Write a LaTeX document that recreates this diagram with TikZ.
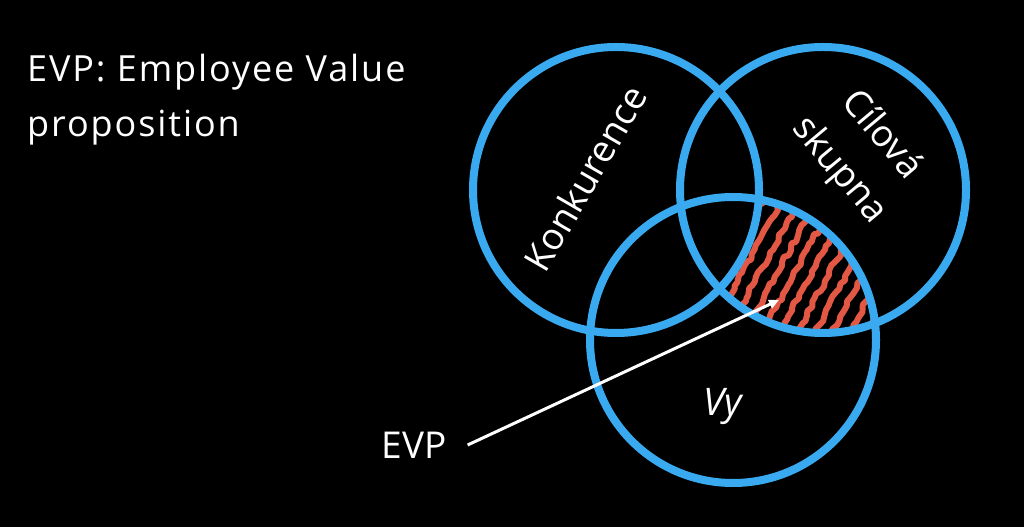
\documentclass[tikz,border=0pt]{standalone}
\usepackage{fontspec}
\setmainfont{Open Sans}
\newfontfamily\titlefont[LetterSpace=5.3]{Open Sans}
\usetikzlibrary{arrows.meta,decorations.pathmorphing}

\definecolor{ringblue}{RGB}{58,170,240}
\definecolor{hatchred}{RGB}{226,88,68}

\tikzset{
  ring/.style={draw=ringblue, line width=8pt},
  vennlabel/.style={text=white, font=\fontsize{37}{55}\selectfont, inner sep=0pt},
  pointer/.style={draw=white, line width=3pt, -{Triangle[length=10pt,width=9pt]}},
  hatch/.style={draw=hatchred, line width=6pt, line join=round, line cap=round, decorate,
    decoration={random steps, segment length=5pt, amplitude=2pt}},
}

\begin{document}
\begin{tikzpicture}[x=1pt,y=1pt]
  \fill[black] (0,0) rectangle (1024,527);
  \useasboundingbox (0,0) rectangle (1024,527);
  % circle centres
  \coordinate (konk) at (616,337);
  \coordinate (cil) at (823,337);
  \coordinate (vy) at (733,187);
  \coordinate (tip) at (779,227);
  % hatched part: target group and you, without competition
  \begin{scope}[even odd rule]
    \clip (cil) circle (143);
    \clip (vy) circle (143);
    \clip (konk) circle (143) (0,0) rectangle (1024,527);
    \pgfmathsetseed{7}
    \foreach \x in {598,615.5,...,900}
      \draw[hatch] (\x,150) -- ++(61.5:230);
  \end{scope}
  \draw[ring] (konk) circle (143);
  \draw[ring] (cil) circle (143);
  \draw[ring] (vy) circle (143);
  \node[vennlabel, rotate=60] (konklabel) at (585,349) {Konkurence};
  \node[vennlabel, rotate=-50, align=center] (cillabel) at (860,374) {Cílová\\skupna};
  \node[vennlabel, font=\fontsize{38}{44}\selectfont\itshape] (vylabel) at (723,120) {Vy};
  \node[anchor=base west, align=left, text=white, inner sep=0pt,
    font=\titlefont\fontsize{36}{55.7}\selectfont] (title) at (27,390) {EVP: Employee Value\\proposition};
  \node[text=white, inner sep=0pt, font=\fontsize{37}{44}\selectfont] (evp) at (414,82) {EVP};
  \draw[pointer] ([xshift=21pt]evp.east) -- (tip);
\end{tikzpicture}
\end{document}
